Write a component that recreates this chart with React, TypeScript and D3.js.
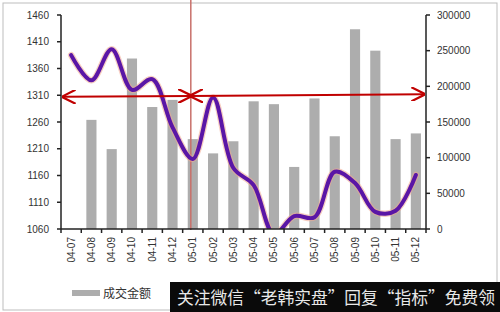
import React from "react";
import * as d3 from "d3";

const categories = [
  "04-07", "04-08", "04-09", "04-10", "04-11", "04-12",
  "05-01", "05-02", "05-03", "05-04", "05-05", "05-06",
  "05-07", "05-08", "05-09", "05-10", "05-11", "05-12",
];

// 成交金额 (right axis)
const turnover = [
  0, 153000, 112000, 239000, 171000, 181000,
  126000, 106000, 123000, 179000, 175000, 87000,
  183000, 130000, 280000, 250000, 126000, 134000,
];

// index level (left axis)
const indexLevel = [
  1385, 1338, 1396, 1320, 1340, 1250,
  1191, 1306, 1174, 1142, 1050, 1084,
  1082, 1167, 1146, 1092, 1094, 1161,
];

const leftTicks = [1060, 1110, 1160, 1210, 1260, 1310, 1360, 1410, 1460];
const rightTicks = [0, 50000, 100000, 150000, 200000, 250000, 300000];

const legendLabel = "成交金额";
const bannerText = "关注微信“老韩实盘”回复“指标”免费领";

const W = 500;
const H = 312;
const plot = { left: 61, right: 426, top: 15, bottom: 229 };

export default function App() {
  const x = d3
    .scaleBand<string>()
    .domain(categories)
    .range([plot.left, plot.right])
    .padding(0);
  const yL = d3.scaleLinear().domain([1060, 1460]).range([plot.bottom, plot.top]);
  const yR = d3.scaleLinear().domain([0, 300000]).range([plot.bottom, plot.top]);
  const bw = x.bandwidth();
  const barW = bw * 0.5;
  const cx = (c: string) => (x(c) as number) + bw / 2;

  const line = d3
    .line<number>()
    .x((_, i) => cx(categories[i]))
    .y((d) => yL(d))
    .curve(d3.curveCatmullRom.alpha(0.5));
  const path = line(indexLevel) || "";

  const splitX = cx("05-01") - 2;
  const arrowY1 = yL(1307);
  const arrowY2 = yL(1312);
  const midY = arrowY1 + (arrowY2 - arrowY1) * ((splitX - plot.left) / (plot.right - plot.left));
  const font = "'Liberation Sans', Arial, sans-serif";

  const boundaries = categories.map((c) => x(c) as number).concat([plot.right]);

  return (
    <svg
      width={W}
      height={H}
      style={{ position: "absolute", left: 0, top: 0, background: "#fff" }}
      fontFamily={font}
    >
      <defs>
        <clipPath id="plotClip">
          <rect x={plot.left} y={0} width={plot.right - plot.left} height={plot.bottom} />
        </clipPath>
        <marker id="arrowHead" viewBox="0 0 10 10" refX={9} refY={5} markerWidth={7} markerHeight={7} orient="auto-start-reverse">
          <path d="M0,0 L10,5 L0,10" fill="none" stroke="#c00000" strokeWidth={1.6} />
        </marker>
      </defs>

      {/* outer frame */}
      <rect x={3} y={3} width={494} height={307} fill="none" stroke="#bdbdbd" strokeWidth={1} />

      {/* turnover bars */}
      {categories.map((c, i) =>
        turnover[i] > 0 ? (
          <rect
            key={c}
            x={cx(c) - barW / 2}
            y={yR(turnover[i])}
            width={barW}
            height={plot.bottom - yR(turnover[i])}
            fill="#adadad"
          />
        ) : null
      )}

      {/* vertical divider */}
      <line x1={splitX} x2={splitX} y1={0} y2={plot.bottom + 1} stroke="#c8706a" strokeWidth={1.5} />

      {/* index line */}
      <g clipPath="url(#plotClip)">
        <path d={path} fill="none" stroke="#f0a890" strokeOpacity={0.55} strokeWidth={6.5} strokeLinecap="round" />
        <path d={path} fill="none" stroke="#5a16a6" strokeWidth={4} strokeLinecap="round" strokeLinejoin="round" />
      </g>

      {/* horizontal arrows */}
      <line
        x1={plot.left + 2}
        y1={arrowY1}
        x2={splitX}
        y2={midY}
        stroke="#c00000"
        strokeWidth={2}
        markerStart="url(#arrowHead)"
        markerEnd="url(#arrowHead)"
      />
      <line
        x1={splitX}
        y1={midY}
        x2={plot.right - 2}
        y2={arrowY2}
        stroke="#c00000"
        strokeWidth={2}
        markerStart="url(#arrowHead)"
        markerEnd="url(#arrowHead)"
      />

      {/* left axis */}
      <line x1={plot.left} x2={plot.left} y1={plot.top} y2={plot.bottom} stroke="#222" strokeWidth={1.5} />
      {leftTicks.map((t) => (
        <g key={t}>
          <line x1={plot.left - 4} x2={plot.left} y1={yL(t)} y2={yL(t)} stroke="#222" strokeWidth={1.5} />
          <text x={49} y={yL(t) + 3.5} textAnchor="end" fontSize={10} fill="#333">
            {t}
          </text>
        </g>
      ))}

      {/* right axis */}
      <line x1={plot.right} x2={plot.right} y1={plot.top} y2={plot.bottom} stroke="#222" strokeWidth={1.5} />
      {rightTicks.map((t) => (
        <g key={t}>
          <line x1={plot.right} x2={plot.right + 4} y1={yR(t)} y2={yR(t)} stroke="#222" strokeWidth={1.5} />
          <text x={437} y={yR(t) + 3.5} textAnchor="start" fontSize={10} fill="#333">
            {t}
          </text>
        </g>
      ))}

      {/* category axis */}
      <line x1={plot.left} x2={plot.right} y1={plot.bottom} y2={plot.bottom} stroke="#222" strokeWidth={1.5} />
      {boundaries.map((b, i) => (
        <line key={i} x1={b} x2={b} y1={plot.bottom} y2={plot.bottom + 4} stroke="#222" strokeWidth={1.5} />
      ))}
      {categories.map((c) => (
        <text
          key={c}
          transform={`translate(${cx(c) + 3.5},${plot.bottom + 8}) rotate(-90)`}
          textAnchor="end"
          fontSize={10}
          fill="#333"
        >
          {c}
        </text>
      ))}

      {/* legend */}
      <rect x={72} y={290} width={28} height={6} fill="#adadad" />
      <text x={103} y={298} fontSize={12} fill="#333" fontFamily="'Noto Sans CJK SC', sans-serif">
        {legendLabel}
      </text>

      {/* banner */}
      <rect x={170} y={282} width={330} height={30} fill="#0a0a0a" />
      <text
        x={177}
        y={304}
        fontSize={16.5}
        fill="#e8e8e8"
        textLength={318}
        lengthAdjust="spacingAndGlyphs"
        fontFamily="'Noto Sans CJK SC', sans-serif"
      >
        {bannerText}
      </text>
    </svg>
  );
}
